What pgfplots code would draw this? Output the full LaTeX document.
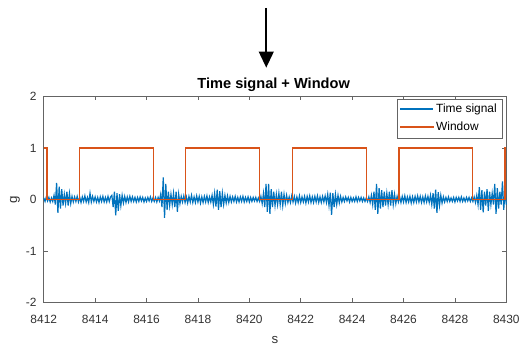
\documentclass[border=0pt]{standalone}
\usepackage{fontspec}
\setmainfont{Liberation Sans}
\usepackage{pgfplots}
\pgfplotsset{compat=1.18}
\usetikzlibrary{arrows.meta}
\definecolor{mblue}{RGB}{0,114,189}
\definecolor{morange}{RGB}{217,83,25}
\definecolor{axgray}{RGB}{100,100,100}
\definecolor{txtgray}{RGB}{50,50,50}
\begin{document}
\begin{tikzpicture}
\begin{axis}[
  name=ax,
  scale only axis,
  width=348.75pt, height=155.25pt,
  xmin=8412, xmax=8430, ymin=-2, ymax=2,
  xtick={8412,8414,...,8430}, ytick={-2,-1,0,1,2},
  tick pos=both, tick align=inside,
  major tick length=3pt,
  axis line style={axgray, line width=0.6pt},
  every tick/.style={axgray, line width=0.5pt},
  /pgf/number format/assume math mode=true,
  /pgf/number format/1000 sep={},
  tick label style={font=\fontsize{9}{10}\selectfont, text=txtgray},
  xticklabel style={yshift=-6pt},
  yticklabel style={xshift=-2pt},
  xlabel={s}, ylabel={g},
  label style={font=\fontsize{10}{11}\selectfont, text=txtgray},
  xlabel style={at={(axis description cs:0.5,-0.183)}, anchor=center},
  ylabel style={at={(axis description cs:-0.0624,0.5)}, anchor=center},
  title={Time signal + Window},
  every axis title shift=0pt,
  title style={font=\bfseries\fontsize{11}{12}\selectfont, at={(axis description cs:0.497,1.055)}, anchor=center},
  clip=false,
  legend style={at={(axis description cs:0.9914,0.990)}, anchor=north east,
    draw=axgray, font=\fontsize{9}{10}\selectfont,
    inner sep=2pt, row sep=1.5pt, legend cell align=left},
]
\addplot[color=mblue, line width=0.9pt,
  legend image code/.code={\fill[mblue] (0cm,-0.3pt) rectangle (0.85cm,0.3pt);}]
  table[header=false, row sep=\\, x expr=8412+0.05*\coordindex, y index=0] {
0.03\\ -0.04\\ 0.05\\ -0.03\\ 0.04\\ -0.05\\ 0.03\\ -0.04\\
0.08\\ -0.10\\ 0.32\\ -0.26\\ 0.25\\ -0.18\\ 0.20\\
-0.12\\ 0.10\\ -0.08\\ 0.15\\ -0.12\\ 0.12\\
-0.08\\ 0.06\\ -0.05\\ 0.05\\
-0.04\\ 0.06\\ -0.05\\ 0.04\\ -0.06\\ 0.05\\ -0.04\\ 0.07\\ -0.05\\ 0.04\\ -0.06\\ 0.12\\ -0.05\\ 0.06\\ -0.04\\ 0.05\\
-0.05\\ 0.04\\ -0.06\\ 0.05\\ -0.04\\ 0.06\\ -0.05\\ 0.04\\ -0.05\\ 0.06\\ -0.04\\ 0.05\\
0.08\\ -0.15\\ 0.15\\ -0.31\\ 0.12\\ -0.22\\ 0.10\\ -0.12\\
0.08\\ -0.07\\ 0.06\\ -0.06\\ 0.05\\ -0.05\\ 0.06\\ -0.04\\ 0.05\\ -0.04\\ 0.04\\ -0.05\\
0.04\\ -0.04\\ 0.05\\ -0.03\\ 0.04\\ -0.05\\ 0.03\\ -0.04\\ 0.04\\ -0.03\\ 0.05\\ -0.04\\ 0.03\\ -0.04\\ 0.04\\ -0.05\\ 0.04\\ -0.03\\
0.10\\ -0.15\\ 0.43\\ -0.36\\ 0.30\\ -0.20\\ 0.15\\ -0.12\\ 0.10\\ -0.10\\
0.12\\ -0.15\\ 0.15\\ -0.24\\ 0.10\\ -0.08\\
0.06\\ -0.05\\ 0.07\\ -0.06\\ 0.05\\ -0.07\\ 0.06\\ -0.05\\ 0.08\\ -0.06\\ 0.05\\ -0.06\\ 0.07\\ -0.05\\ 0.06\\ -0.07\\ 0.05\\ -0.06\\ 0.06\\ -0.05\\ 0.07\\ -0.06\\ 0.05\\ -0.05\\
0.08\\ -0.10\\ 0.12\\ -0.14\\ 0.19\\ -0.20\\ 0.16\\ -0.15\\ 0.12\\ -0.10\\ 0.08\\ -0.07\\ 0.07\\ -0.06\\ 0.06\\ -0.05\\
0.05\\ -0.04\\ 0.06\\ -0.05\\ 0.04\\ -0.05\\ 0.05\\ -0.04\\ 0.06\\ -0.05\\ 0.04\\ -0.04\\ 0.05\\ -0.05\\ 0.04\\ -0.04\\
0.04\\ -0.03\\ 0.04\\ -0.04\\ 0.03\\ -0.04\\
0.06\\ -0.08\\ 0.12\\ -0.15\\ 0.30\\ -0.24\\ 0.30\\ -0.28\\ 0.20\\ -0.15\\ 0.15\\ -0.12\\ 0.10\\ -0.10\\
0.12\\ -0.10\\ 0.15\\ -0.12\\ 0.10\\ -0.08\\ 0.08\\ -0.06\\
0.05\\ -0.06\\ 0.07\\ -0.05\\ 0.06\\ -0.07\\ 0.05\\ -0.06\\ 0.07\\ -0.06\\ 0.05\\ -0.05\\ 0.06\\ -0.07\\ 0.06\\ -0.05\\ 0.07\\ -0.06\\ 0.05\\ -0.06\\ 0.06\\ -0.05\\ 0.07\\ -0.06\\ 0.05\\ -0.06\\ 0.06\\ -0.05\\ 0.07\\ -0.06\\
0.10\\ -0.12\\ 0.13\\ -0.30\\ 0.12\\ -0.15\\ 0.10\\ -0.10\\ 0.08\\ -0.07\\ 0.06\\ -0.05\\
0.04\\ -0.04\\ 0.05\\ -0.03\\ 0.04\\ -0.05\\ 0.04\\ -0.04\\ 0.03\\ -0.04\\ 0.05\\ -0.04\\ 0.04\\ -0.03\\ 0.04\\ -0.04\\ 0.03\\ -0.04\\
0.03\\ -0.04\\ 0.05\\ -0.06\\ 0.08\\ -0.10\\
0.15\\ -0.20\\ 0.30\\ -0.28\\ 0.22\\ -0.18\\ 0.18\\ -0.15\\ 0.15\\ -0.12\\ 0.12\\ -0.10\\
0.15\\ -0.12\\ 0.18\\ -0.10\\ 0.10\\ -0.08\\ 0.06\\ -0.05\\
0.05\\ -0.06\\ 0.06\\ -0.05\\ 0.07\\ -0.06\\ 0.05\\ -0.05\\ 0.06\\ -0.07\\ 0.05\\ -0.06\\ 0.06\\ -0.05\\ 0.07\\ -0.05\\ 0.06\\ -0.06\\ 0.05\\ -0.06\\ 0.07\\ -0.05\\ 0.06\\ -0.06\\
0.08\\ -0.10\\ 0.12\\ -0.18\\ 0.19\\ -0.26\\ 0.14\\ -0.12\\ 0.08\\ -0.07\\
0.05\\ -0.05\\ 0.04\\ -0.04\\ 0.05\\ -0.04\\ 0.03\\ -0.04\\ 0.04\\ -0.05\\ 0.04\\ -0.03\\ 0.04\\ -0.04\\ 0.05\\ -0.04\\ 0.03\\ -0.04\\ 0.04\\ -0.03\\ 0.04\\ -0.04\\ 0.03\\ -0.04\\
0.05\\ -0.06\\ 0.08\\ -0.10\\ 0.24\\ -0.20\\ 0.18\\ -0.25\\ 0.15\\ -0.12\\ 0.20\\ -0.22\\ 0.15\\ -0.10\\ 0.12\\ -0.10\\ 0.30\\ -0.28\\ 0.22\\ -0.18\\ 0.15\\ -0.10\\ 0.35\\ -0.20\\ 0.15\\ -0.10\\
};
\addlegendentry{Time signal}
\addplot[color=morange, line width=1.1pt,
  legend image code/.code={\fill[morange] (0cm,-0.3pt) rectangle (0.85cm,0.3pt);}]
  coordinates {
(8412,1)(8412.13,1)(8412.13,0)(8413.39,0)(8413.39,1)(8416.27,1)(8416.27,0)
(8417.52,0)(8417.52,1)(8420.40,1)(8420.40,0)(8421.68,0)(8421.68,1)(8424.56,1)
(8424.56,0)(8425.82,0)(8425.82,1)(8428.69,1)(8428.69,0)(8429.95,0)(8429.95,1)(8430,1)
};
\addlegendentry{Window}
\draw[black, line width=1.5pt, -{Triangle[width=11pt,length=12pt]}]
  (axis description cs:0.481,1.430) -- (axis description cs:0.481,1.140);
\end{axis}
\path ([shift={(-33pt,-33pt)}]ax.south west) rectangle ([shift={(11.25pt,72.75pt)}]ax.north east);
\end{tikzpicture}
\end{document}
